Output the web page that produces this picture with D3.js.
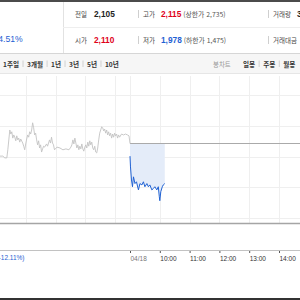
<!DOCTYPE html>
<html lang="ko">
  <head>
    <meta charset="UTF-8" />
    <title>Stock chart</title>
    <script src="https://d3js.org/d3.v7.min.js"></script>
    <style>
      body { margin: 0; background: #fff; }
      svg { display: block; font-family: "Noto Sans CJK KR", "Liberation Sans", sans-serif; }
    </style>
  </head>
  <body>
    <svg width="300" height="300"></svg>
    <script>
      // header table
      let rowLabels = [["전일", "고가", "거래량"], ["시가", "저가", "거래대금"]];
      let rowValues = [["2,105", "2,115", "3,227,185"], ["2,110", "1,978", ""]];
      let rowExtras = [["", "(상한가 2,735)", ""], ["", "(하한가 1,475)", ""]];
      let changeText = "-4.51%";
      let periodTabs = ["1주일", "3개월", "1년", "3년", "5년", "10년"];
      let candleTabs = ["일봉", "주봉", "월봉"];

      // previous day (gray) intraday line
      let prevTimes = ["11:08","11:14","11:18","11:22","11:24","11:28","11:30","11:32","11:34","11:36","11:38","11:40","11:42","11:44","11:46","11:48","11:50","11:54","11:56","11:58","12:00","12:02","12:04","12:06","12:08","12:10","12:12","12:14","12:16","12:18","12:20","12:22","12:24","12:26","12:28","12:30","12:32","12:34","12:36","12:38","12:42","12:44","12:48","12:50","12:52","12:54","12:56","12:58","13:03","13:09","13:15","13:21","13:27","13:31","13:33","13:35","13:37","13:39","13:41","13:43","13:45","13:47","13:49","13:51","13:53","13:55","13:57","13:59","14:01","14:03","14:05","14:07","14:09","14:11","14:13","14:15","14:17","14:19","14:21","14:23","14:25","14:27","14:29","14:31","14:33","14:35","14:37","14:39","14:41","14:43","14:45","14:47","14:49","14:51","14:53","14:55","14:57","14:59","15:01","15:03","15:05","15:07","15:09","15:13","15:17","15:21","15:25","15:28"];
      let prevPrices = [2077,2077,2073,2073,2091,2135,2126,2131,2117,2124,2119,2111,2122,2113,2117,2108,2115,2106,2099,2091,2104,2115,2124,2119,2131,2126,2135,2151,2140,2124,2128,2113,2102,2111,2095,2102,2086,2093,2099,2097,2104,2099,2113,2106,2119,2106,2102,2091,2097,2095,2091,2093,2091,2097,2102,2113,2104,2117,2106,2095,2102,2091,2099,2093,2104,2093,2088,2097,2102,2095,2108,2099,2111,2102,2108,2095,2091,2099,2086,2084,2095,2113,2128,2135,2142,2140,2133,2137,2128,2135,2124,2131,2122,2128,2117,2126,2119,2128,2122,2126,2117,2124,2119,2126,2124,2126,2124,2122];

      // today (04/18) intraday line
      let todayTimes = ["09:00","09:01","09:03","09:05","09:07","09:10","09:13","09:17","09:20","09:24","09:27","09:30","09:34","09:37","09:40","09:44","09:47","09:50","09:54","09:57","09:59","10:00","10:02","10:05","10:07","10:10"];
      let todayPrices = [2077,2053,2024,2009,2031,2016,2020,2002,2016,2013,2020,2009,2016,2009,2013,2002,2005,2009,2002,2009,1987,1978,1998,2009,2013,2016];

      let prevClose = 2105;
      let gridPrices = [2212, 2144, 2076, 2008, 1940];
      let prevGridTimes = ["12:00", "13:00", "14:00", "15:00"];
      let axisTimes = ["09:00", "10:00", "11:00", "12:00", "13:00", "14:00"];
      let axisLabels = ["04/18", "10:00", "11:00", "12:00", "13:00", "14:00"];
      let bottomLeftText = "(-12.11%)";

      let red = "#e0001b", blue = "#1f61d3";
      let svg = d3.select("svg");

      // hours, previous day shifted so its 15:30 lines up with today's 09:00
      function hours(t, prev) {
        let p = t.split(":");
        return +p[0] + p[1] / 60 - (prev ? 6.5 : 0);
      }

      // ---------- header ----------
      svg.append("rect").attr("x", 0).attr("y", 0).attr("width", 300).attr("height", 2).attr("fill", "#4b4b4b");
      svg.append("line").attr("x1", 63.5).attr("x2", 63.5).attr("y1", 2).attr("y2", 53).attr("stroke", "#e2e2e2");
      svg.append("line").attr("x1", 63).attr("x2", 300).attr("y1", 27.5).attr("y2", 27.5).attr("stroke", "#eeeeee");

      svg.append("text").attr("x", 22.7).attr("y", 41.5).attr("text-anchor", "end")
        .attr("font-size", 8.6).attr("fill", blue).attr("font-family", "Liberation Sans").text(changeText);

      let labelX = [75, 143, 273], valueX = [94, 161, 297], rowY = [17, 43];
      let valueColors = [["#222", red, "#222"], [red, blue, "#222"]];
      rowLabels.forEach((row, r) => {
        row.forEach((lab, c) => {
          svg.append("text").attr("x", labelX[c]).attr("y", rowY[r])
            .attr("font-size", 6.5).attr("fill", "#444").text(lab);
          let t = svg.append("text").attr("x", valueX[c]).attr("y", rowY[r])
            .attr("font-family", "Liberation Sans");
          t.append("tspan").attr("font-size", 8.3).attr("font-weight", "bold")
            .attr("fill", valueColors[r][c]).text(rowValues[r][c]);
          if (rowExtras[r][c]) {
            t.append("tspan").attr("font-size", 6.8).attr("fill", "#555").attr("dx", 2)
              .attr("font-family", "Noto Sans CJK KR").text(rowExtras[r][c]);
          }
          if (c > 0) {
            svg.append("line").attr("x1", labelX[c] - 4.5).attr("x2", labelX[c] - 4.5)
              .attr("y1", rowY[r] - 7).attr("y2", rowY[r] + 1).attr("stroke", "#cfcfcf");
          }
        });
      });

      // ---------- tab bar ----------
      svg.append("rect").attr("x", 0).attr("y", 53).attr("width", 300).attr("height", 20).attr("fill", "#f6f6f6");
      svg.append("line").attr("x1", 0).attr("x2", 300).attr("y1", 53.5).attr("y2", 53.5).attr("stroke", "#d6d6d6");
      svg.append("line").attr("x1", 0).attr("x2", 300).attr("y1", 73.5).attr("y2", 73.5).attr("stroke", "#e6e6e6");

      function tabRow(items, x0, color) {
        let x = x0;
        items.forEach((s, i) => {
          if (i > 0) {
            svg.append("line").attr("x1", x + 4).attr("x2", x + 4).attr("y1", 60.5).attr("y2", 67)
              .attr("stroke", "#d0d0d0");
            x += 8;
          }
          let t = svg.append("text").attr("x", x).attr("y", 66.5).attr("font-size", 6.6)
            .attr("font-weight", "bold").attr("fill", color).text(s);
          x += t.node().getComputedTextLength();
        });
      }
      tabRow(periodTabs, 3, "#333");
      svg.append("text").attr("x", 213).attr("y", 66.5).attr("font-size", 6.4).attr("fill", "#999").text("봉차트");
      tabRow(candleTabs, 243, "#333");

      // ---------- chart ----------
      let xScale = d3.scaleLinear().domain([9, 14]).range([130, 279]);
      let yScale = d3.scaleLinear().domain([1978, 2105]).range([200.7, 143.5]);
      let plotTop = 76, plotBottom = 223;

      let gridX = prevGridTimes.map((t) => hours(t, true)).concat(axisTimes.map((t) => hours(t, false)));
      svg.append("g").selectAll("line").data(gridX).enter().append("line")
        .attr("x1", (d) => Math.round(xScale(d)) + 0.5).attr("x2", (d) => Math.round(xScale(d)) + 0.5)
        .attr("y1", plotTop).attr("y2", plotBottom).attr("stroke", "#efefef");
      svg.append("g").selectAll("line").data(gridPrices).enter().append("line")
        .attr("x1", 0).attr("x2", 300)
        .attr("y1", (d) => Math.round(yScale(d)) + 0.5).attr("y2", (d) => Math.round(yScale(d)) + 0.5)
        .attr("stroke", "#efefef");

      let prevData = prevTimes.map((t, i) => ({ x: hours(t, true), v: prevPrices[i] }));
      prevData.push({ x: 9, v: prevClose });
      let todayData = todayTimes.map((t, i) => ({ x: hours(t, false), v: todayPrices[i] }));

      let area = d3.area().x((d) => xScale(d.x)).y0(yScale(prevClose)).y1((d) => yScale(d.v));
      svg.append("path").datum(todayData).attr("d", area).attr("fill", "#e4ecf9");

      // previous close line
      svg.append("line").attr("x1", xScale(9)).attr("x2", 300)
        .attr("y1", yScale(prevClose)).attr("y2", yScale(prevClose))
        .attr("stroke", "#aaaaaa").attr("stroke-width", 1);

      let line = d3.line().x((d) => xScale(d.x)).y((d) => yScale(d.v));
      svg.append("path").datum(prevData).attr("d", line).attr("fill", "none")
        .attr("stroke", "#c3c3c3").attr("stroke-width", 0.9);
      svg.append("path").datum(todayData).attr("d", line).attr("fill", "none")
        .attr("stroke", blue).attr("stroke-width", 1);

      svg.append("line").attr("x1", 0).attr("x2", 300).attr("y1", 223.5).attr("y2", 223.5)
        .attr("stroke", "#a5a5a5").attr("stroke-width", 1.3);

      // ---------- time axis ----------
      let axis = d3.axisBottom(xScale).tickValues(axisTimes.map((t) => hours(t, false)))
        .tickFormat((d, i) => axisLabels[i]).tickSize(3).tickPadding(3);
      let ax = svg.append("g").attr("transform", "translate(0,250)").call(axis);
      ax.select(".domain").remove();
      ax.append("line").attr("x1", 0).attr("x2", 300).attr("y1", 0.5).attr("y2", 0.5).attr("stroke", "#c2c2c2");
      ax.selectAll(".tick line").attr("stroke", "#555");
      ax.selectAll(".tick text").attr("text-anchor", "start").attr("font-size", 6.5)
        .attr("font-family", "Liberation Sans").attr("fill", "#333");
      ax.selectAll(".tick text").filter((d, i) => i === 0).attr("fill", "#777");

      svg.append("text").attr("x", 24.5).attr("y", 259.5).attr("text-anchor", "end")
        .attr("font-size", 6.5).attr("font-family", "Liberation Sans").attr("fill", blue).text(bottomLeftText);

      svg.append("rect").attr("x", 0).attr("y", 298).attr("width", 300).attr("height", 2).attr("fill", "#333");
    </script>
  </body>
</html>
